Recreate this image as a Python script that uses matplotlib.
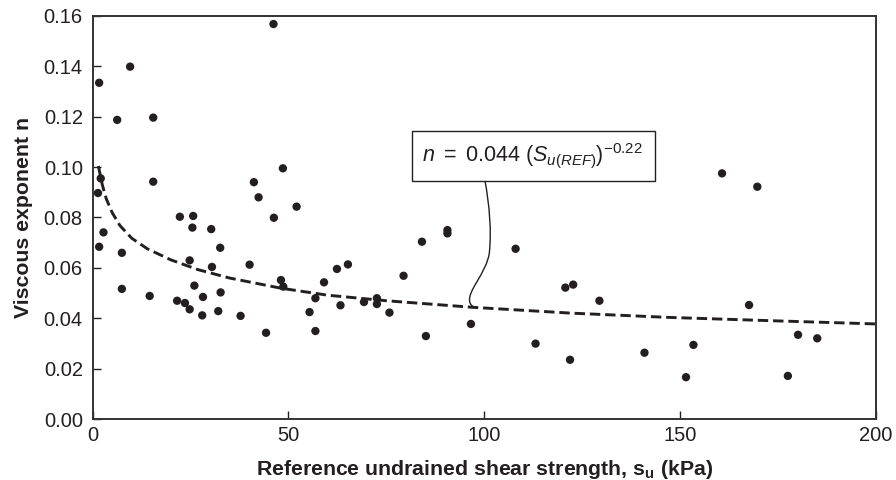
import matplotlib
matplotlib.use("Agg")
import matplotlib.pyplot as plt
from matplotlib.patches import Rectangle, PathPatch
from matplotlib.path import Path

plt.rcParams['font.family'] = ['Liberation Sans', 'DejaVu Sans']
plt.rcParams['mathtext.fontset'] = 'custom'
plt.rcParams['mathtext.rm'] = 'Liberation Sans'
plt.rcParams['mathtext.it'] = 'Liberation Sans:italic'
plt.rcParams['mathtext.bf'] = 'Liberation Sans:bold'
plt.rcParams['lines.scale_dashes'] = False

# Measured data (reference undrained shear strength in kPa, viscous exponent n)
su = [46.2, 9.6, 1.7, 6.3, 15.5, 48.6, 2.1, 15.5, 41.2, 42.4, 1.4, 22.3, 25.7, 25.5,
      30.3, 46.3, 2.8, 1.7, 7.5, 32.6, 24.8, 30.5, 40.1, 48.1, 48.7, 7.5, 26.0, 14.6,
      21.6, 23.6, 28.2, 32.7, 24.8, 28.0, 32.1, 37.8, 44.3, 52.1, 84.1, 90.6, 90.6,
      62.4, 65.2, 59.1, 79.4, 56.9, 55.4, 63.3, 69.3, 72.6, 72.6, 75.8, 56.9, 85.1,
      96.6, 108.0, 120.7, 122.7, 129.4, 113.1, 121.9, 140.9, 160.7, 169.7, 167.6,
      153.4, 151.5, 180.1, 185.0, 177.5]
n_vals = [0.1567, 0.1398, 0.1334, 0.1187, 0.1196, 0.0995, 0.0955, 0.0942, 0.0940,
          0.0880, 0.0897, 0.0803, 0.0806, 0.0760, 0.0754, 0.0799, 0.0741, 0.0684,
          0.0660, 0.0680, 0.0630, 0.0604, 0.0613, 0.0552, 0.0526, 0.0517, 0.0530,
          0.0489, 0.0470, 0.0461, 0.0485, 0.0503, 0.0436, 0.0412, 0.0429, 0.0410,
          0.0343, 0.0843, 0.0704, 0.0750, 0.0737, 0.0596, 0.0614, 0.0543, 0.0569,
          0.0480, 0.0425, 0.0452, 0.0465, 0.0480, 0.0457, 0.0423, 0.0350, 0.0330,
          0.0378, 0.0676, 0.0522, 0.0534, 0.0470, 0.0300, 0.0236, 0.0264, 0.0975,
          0.0922, 0.0453, 0.0295, 0.0167, 0.0335, 0.0321, 0.0172]

# Fitted trend curve
fit_su = [1.5, 2.5, 3.5, 5, 7, 10, 14, 20, 27, 35, 48, 60, 75, 97, 122, 147, 175, 200]
fit_n = [0.1004, 0.0930, 0.0875, 0.0820, 0.0768, 0.0718, 0.0676, 0.0632, 0.0593,
         0.0560, 0.0520, 0.0492, 0.0470, 0.0444, 0.0421, 0.0404, 0.0390, 0.0378]

x_ticks = [0, 50, 100, 150, 200]
y_ticks = [0.00, 0.02, 0.04, 0.06, 0.08, 0.10, 0.12, 0.14, 0.16]

ink = '#231f20'

fig = plt.figure(figsize=(8.96, 4.80), dpi=100)
ax = fig.add_axes([92.5 / 896, 1 - 419.3 / 480, (876 - 92.5) / 896, (419.3 - 15.7) / 480])

ax.plot(fit_su, fit_n, color=ink, lw=2.1, dashes=(7.5, 3.5), zorder=2)
ax.scatter(su, n_vals, s=36, color=ink, edgecolors='none', zorder=3)

ax.set_xlim(0, 200)
ax.set_ylim(0, 0.16)
ax.set_xticks(x_ticks)
ax.set_yticks(y_ticks)
ax.set_xticklabels([str(v) for v in x_ticks])
ax.set_yticklabels([f"{v:.2f}" for v in y_ticks])
ax.tick_params(direction='in', length=6, width=1.0, colors=ink, labelsize=14.5,
               pad=7, labelcolor=ink)
ax.tick_params(axis='x', pad=5)
for sp in ax.spines.values():
    sp.set_linewidth(1.4)
    sp.set_color('#333333')

ax.set_ylabel('Viscous exponent n', fontsize=15.3, fontweight='bold', color=ink, labelpad=8)
ax.set_xlabel(r'Reference undrained shear strength, $\mathbf{s_u}$ (kPa)', fontsize=15.3,
              fontweight='bold', color=ink, labelpad=9)

# Annotation box
box = Rectangle((81.6, 0.0945), 143.6 - 81.6, 0.1143 - 0.0945, facecolor='white',
                edgecolor=ink, lw=1.0, zorder=4)
ax.add_patch(box)
ax.text(112.2, 0.1044, r'$n\ =\ 0.044\ (S_{u(REF)})^{-0.22}$', fontsize=15.5,
        ha='center', va='center', color=ink, zorder=5)

# Leader line from box to curve
verts = [(100.2, 0.0945), (101.3, 0.085), (101.9, 0.075), (101.3, 0.066),
         (100.6, 0.058), (95.6, 0.051), (96.3, 0.0465), (96.5, 0.0455), (96.8, 0.0448), (97.4, 0.0446)]
codes = [Path.MOVETO, Path.CURVE4, Path.CURVE4, Path.CURVE4,
         Path.CURVE4, Path.CURVE4, Path.CURVE4, Path.CURVE4, Path.CURVE4, Path.CURVE4]
ax.add_patch(PathPatch(Path(verts, codes), facecolor='none', edgecolor=ink, lw=1.0, zorder=4))

fig.savefig('out.png', dpi=100)
